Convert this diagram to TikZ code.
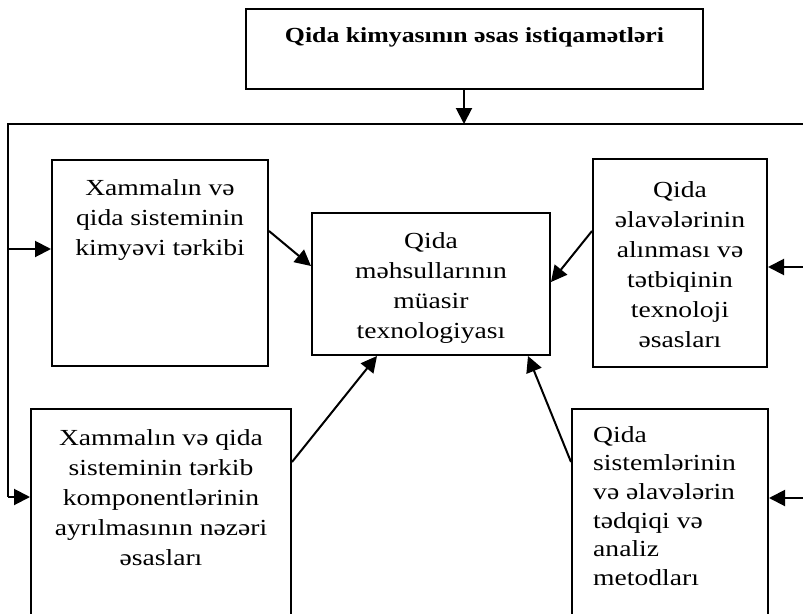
\documentclass[tikz,border=0pt]{standalone}
\usepackage{fontspec}
\setmainfont{Liberation Serif}[FakeStretch=1.2]
\usetikzlibrary{arrows.meta}
\tikzset{
  box/.style={draw, line width=2pt, inner sep=0pt, fill=none},
  line/.style={line width=2pt},
  arr/.style={line width=2pt, -{Triangle[length=16pt,width=16pt]}},
  txt/.style={inner sep=0pt, anchor=base, align=center, font=\fontsize{23}{30}\selectfont},
}
\begin{document}
\begin{tikzpicture}[x=1pt,y=-1pt]
\useasboundingbox (0,0) rectangle (803,613);
\clip (0,0) rectangle (803,613);
% boxes
\node[box, minimum width=457pt, minimum height=80pt] (top) at (474.5,49) {};
\node[box, minimum width=216pt, minimum height=206pt] (b1) at (160,263) {};
\node[box, minimum width=238pt, minimum height=142pt] (c) at (431,284) {};
\node[box, minimum width=174pt, minimum height=208pt] (b3) at (680,263) {};
\node[box, minimum width=260pt, minimum height=231pt] (b4) at (161,524.5) {};
\node[box, minimum width=196pt, minimum height=231pt] (b5) at (670,524.5) {};
% texts
\node[txt, font=\bfseries\fontsize{21.5}{26}\selectfont] (ttop) at (474.5,42) {Qida kimyasının əsas istiqamətləri};
\node[txt, anchor=north] (t1) at (160,174) {\strut Xammalın və\\qida sisteminin\\kimyəvi tərkibi};
\node[txt, anchor=north] (tc) at (431,227) {\strut Qida\\məhsullarının\\müasir\\texnologiyası};
\node[txt, anchor=north] (t3) at (680,176) {\strut Qida\\əlavələrinin\\alınması və\\tətbiqinin\\texnoloji\\əsasları};
\node[txt, anchor=north] (t4) at (161,424) {\strut Xammalın və qida\\sisteminin tərkib\\komponentlərinin\\ayrılmasının nəzəri\\əsasları};
\node[txt, anchor=north west, align=left, font=\fontsize{23}{28.6}\selectfont] (t5) at (593,422) {\strut Qida\\sistemlərinin\\və əlavələrin\\tədqiqi və\\analiz\\metodları};
% bus
\coordinate (j) at (464,124);
\coordinate (L1) at (8,124);
\coordinate (R1) at (803,124);
\coordinate (L2) at (8,249);
\coordinate (L3) at (8,497);
\coordinate (R2) at (803,267);
\coordinate (R3) at (803,498);
\draw[arr] (top.south -| j) -- (j);
\draw[line] (R1) -- (L1) -- (L3);
\draw[arr] (L2) -- (b1.west |- L2);
\draw[arr] (L3) -- (b4.west |- L3);
\draw[arr] (R2) -- (b3.east |- R2);
\draw[arr] (R3) -- (b5.east |- R3);
% into centre
\draw[arr] (b1.east |- 0,231) -- (c.west |- 0,266);
\draw[arr] (b3.west |- 0,231) -- (c.east |- 0,282);
\draw[arr] (b4.east |- 0,462) -- (c.south -| 377,0);
\draw[arr] (b5.west |- 0,462) -- (c.south -| 528,0);
\end{tikzpicture}
\end{document}
